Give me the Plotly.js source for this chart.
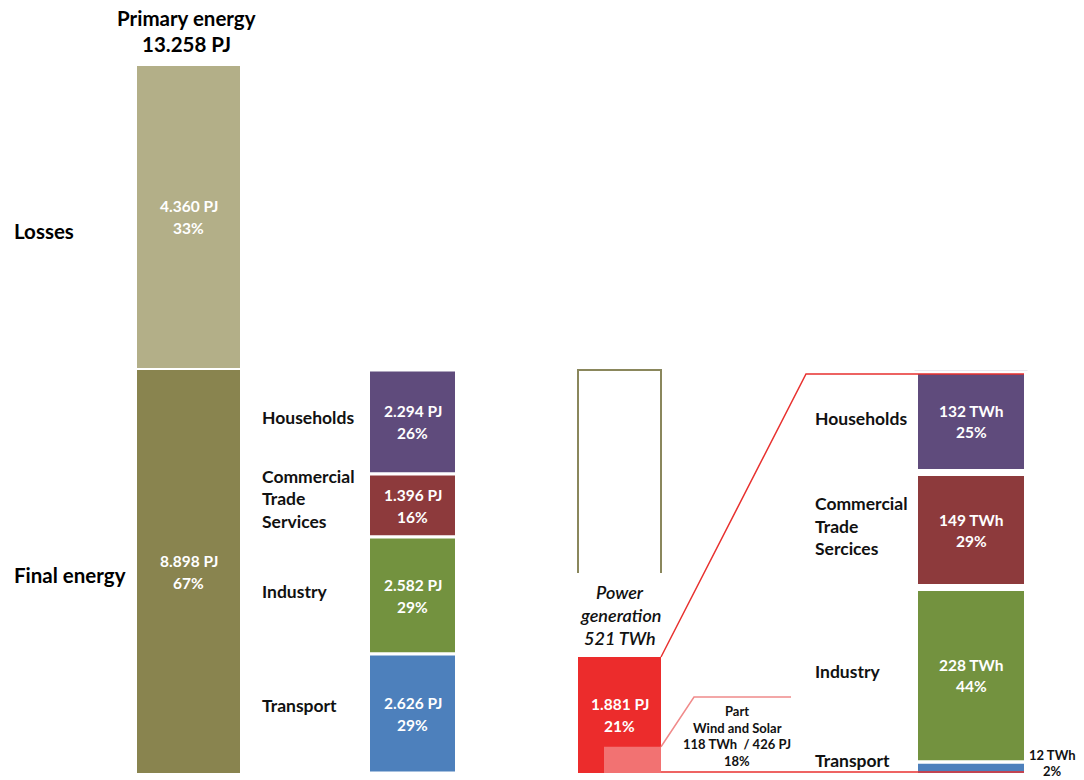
<!DOCTYPE html>
<html>
<head>
<meta charset="utf-8">
<script src="https://cdn.plot.ly/plotly-3.0.1.min.js"></script>
<style>html,body{margin:0;padding:0;background:#fff;}#chart{width:1084px;height:780px;}</style>
</head>
<body>
<div id="chart"></div>
<script>
// ---------------- DATA ----------------
const primaryPJ = 13258;
const lossesPJ = 4360;
const lossesPct = 33;
const finalPJ = 8898;
const finalPct = 67;

const sectorLabels = ['Households', 'Commercial<br>Trade<br>Services', 'Industry', 'Transport'];
const sectorPJ = [2294, 1396, 2582, 2626];
const sectorPct = [26, 16, 29, 29];

const powerPJ = 1881;
const powerPct = 21;
const powerTWh = 521;
const windSolarTWh = 118;
const windSolarPJ = 426;
const windSolarPct = 18;

const elecLabels = ['Households', 'Commercial<br>Trade<br>Sercices', 'Industry', 'Transport'];
const elecTWh = [132, 149, 228, 12];
const elecPct = [25, 29, 44, 2];

// ---------------- STYLE ----------------
const W = 1084, H = 780;
const FONT = 'Lato, "Open Sans", sans-serif';
const sectorColors = ['#5f4b7c', '#8d3a3c', '#73923f', '#4d80bc'];
const cLoss = '#b3af88', cFinal = '#89844f', cRed = '#ec2c2c', cWind = '#f27272';

function P(py) { return 1 - py / H; }
function fmt(n) { return String(n).replace(/\B(?=(\d{3})+(?!\d))/g, '.'); }
function sum(a) { return a.reduce((s, v) => s + v, 0); }
function basesTopDown(vals) { // stack: last element at bottom
  const b = new Array(vals.length); let acc = 0;
  for (let i = vals.length - 1; i >= 0; i--) { b[i] = acc; acc += vals[i]; }
  return b;
}

const axes = {
  y:  {domain: [P(773), P(370)], range: [0, finalPJ]},
  y2: {domain: [P(368), P(66)],  range: [0, lossesPJ]},
  y3: {domain: [P(773), P(657)], range: [0, powerPJ]},
  y4: {domain: [P(773), P(370.5)], range: [0, sum(elecTWh)]}
};
function toPaper(ax, v) {
  const a = axes[ax];
  return a.domain[0] + (v - a.range[0]) / (a.range[1] - a.range[0]) * (a.domain[1] - a.domain[0]);
}

const sectorBase = basesTopDown(sectorPJ);
const elecBase = basesTopDown(elecTWh);

const traces = [
  {type: 'bar', x: [188.5], y: [lossesPJ], base: [0], width: [103], yaxis: 'y2',
   marker: {color: cLoss, line: {width: 0}}, hoverinfo: 'skip'},
  {type: 'bar', x: [188.5], y: [finalPJ], base: [0], width: [103], yaxis: 'y',
   marker: {color: cFinal, line: {width: 0}}, hoverinfo: 'skip'},
  {type: 'bar', x: sectorPJ.map(() => 412.5), y: sectorPJ, base: sectorBase, width: sectorPJ.map(() => 88), yaxis: 'y',
   marker: {color: sectorColors, line: {color: '#ffffff', width: 3}}, hoverinfo: 'skip'},
  {type: 'bar', x: [619.5], y: [powerPJ], base: [0], width: [83], yaxis: 'y3',
   marker: {color: cRed, line: {width: 0}}, hoverinfo: 'skip'},
  {type: 'bar', x: [632.5], y: [windSolarPJ], base: [0], width: [57], yaxis: 'y3',
   marker: {color: cWind, line: {width: 0}}, hoverinfo: 'skip'},
  {type: 'bar', x: elecTWh.map(() => 971), y: elecTWh, base: elecBase, width: [113, 113, 113, 106], yaxis: 'y4',
   marker: {color: sectorColors, line: {color: '#ffffff', width: [7, 7, 7, 0]}}, hoverinfo: 'skip'}
];

// ---------------- TEXT ----------------
const ann = [];
function lines(x, yPaper, arr, spacing, font, xanchor) {
  const n = arr.length;
  arr.forEach((t, i) => {
    ann.push({x: x, y: yPaper, xref: 'x', yref: 'paper', text: t, showarrow: false,
      xanchor: xanchor || 'center', yanchor: 'middle', yshift: ((n - 1) / 2 - i) * spacing, font: font});
  });
}
const fTitle = {family: FONT, size: 20.5, color: '#000', weight: 700};
const fRow = {family: FONT, size: 17.5, color: '#111', weight: 700};
const fVal = {family: FONT, size: 15.5, color: '#fff', weight: 700};
const fSmall = {family: FONT, size: 13, color: '#111', weight: 700};

lines(186, P(31), ['Primary energy', fmt(primaryPJ) + ' PJ'], 26, fTitle);
lines(12, P(231), ['Losses'], 0, fTitle, 'left');
lines(12, P(575), ['Final energy'], 0, fTitle, 'left');

lines(188.5, toPaper('y2', lossesPJ / 2), [fmt(lossesPJ) + ' PJ', lossesPct + '%'], 22, fVal);
lines(188.5, toPaper('y', finalPJ / 2), [fmt(finalPJ) + ' PJ', finalPct + '%'], 22, fVal);

const rowY = [417, 499, 591, 705];
sectorPJ.forEach((v, i) => {
  lines(412.5, toPaper('y', sectorBase[i] + v / 2), [fmt(v) + ' PJ', sectorPct[i] + '%'], 22, fVal);
  lines(260, P(rowY[i]), sectorLabels[i].split('<br>'), 22.5, fRow, 'left');
});

lines(620, P(615), ['Power', 'generation', powerTWh + ' TWh'], 23, {family: FONT, size: 18, color: '#111', style: 'italic', weight: 600});
lines(619.5, toPaper('y3', powerPJ / 2) , [fmt(powerPJ) + ' PJ', powerPct + '%'], 22, fVal);
lines(737, P(736), ['Part', 'Wind and Solar', windSolarTWh + ' TWh&nbsp;&nbsp;/ ' + windSolarPJ + ' PJ', windSolarPct + '%'], 16.5, fSmall);

const rowY2 = [418, 526, 671, 760];
elecTWh.forEach((v, i) => {
  lines(813, P(rowY2[i]), elecLabels[i].split('<br>'), 22.5, fRow, 'left');
  if (i < 3) lines(971, toPaper('y4', elecBase[i] + v / 2), [v + ' TWh', elecPct[i] + '%'], 21, fVal);
  else lines(1052, P(763), [v + ' TWh', elecPct[i] + '%'], 16, fSmall);
});

// ---------------- CONNECTORS / FRAME ----------------
const yRedTop = toPaper('y3', powerPJ);
const yWindTop = toPaper('y3', windSolarPJ);
const shapes = [
  {type: 'path', xref: 'x', yref: 'paper',
   path: `M578,${P(573)} L578,${toPaper('y', finalPJ)} L661,${toPaper('y', finalPJ)} L661,${P(573)}`,
   line: {color: '#8a875c', width: 2}},
  {type: 'path', xref: 'x', yref: 'paper',
   path: `M661,${yRedTop} L806,${P(374)} L1024,${P(374)}`,
   line: {color: '#e8312f', width: 1.5}},
  {type: 'line', xref: 'x', yref: 'paper', x0: 661, x1: 1024, y0: P(772), y1: P(772),
   line: {color: '#e8312f', width: 1.5}},
  {type: 'path', xref: 'x', yref: 'paper',
   path: `M661,${yWindTop} L694,${P(697)} L791,${P(697)}`,
   line: {color: '#f08a8a', width: 1.5}}
];

const layout = {
  width: W, height: H,
  margin: {l: 0, r: 0, t: 0, b: 0, pad: 0},
  paper_bgcolor: '#ffffff', plot_bgcolor: 'rgba(0,0,0,0)',
  showlegend: false, barmode: 'overlay',
  xaxis: {range: [0, W], domain: [0, 1], visible: false, fixedrange: true},
  yaxis: Object.assign({anchor: 'x', visible: false, fixedrange: true}, axes.y),
  yaxis2: Object.assign({anchor: 'x', visible: false, fixedrange: true}, axes.y2),
  yaxis3: Object.assign({anchor: 'x', visible: false, fixedrange: true}, axes.y3),
  yaxis4: Object.assign({anchor: 'x', visible: false, fixedrange: true}, axes.y4),
  annotations: ann, shapes: shapes
};
Plotly.newPlot('chart', traces, layout, {displayModeBar: false, staticPlot: true});
</script>
</body>
</html>
